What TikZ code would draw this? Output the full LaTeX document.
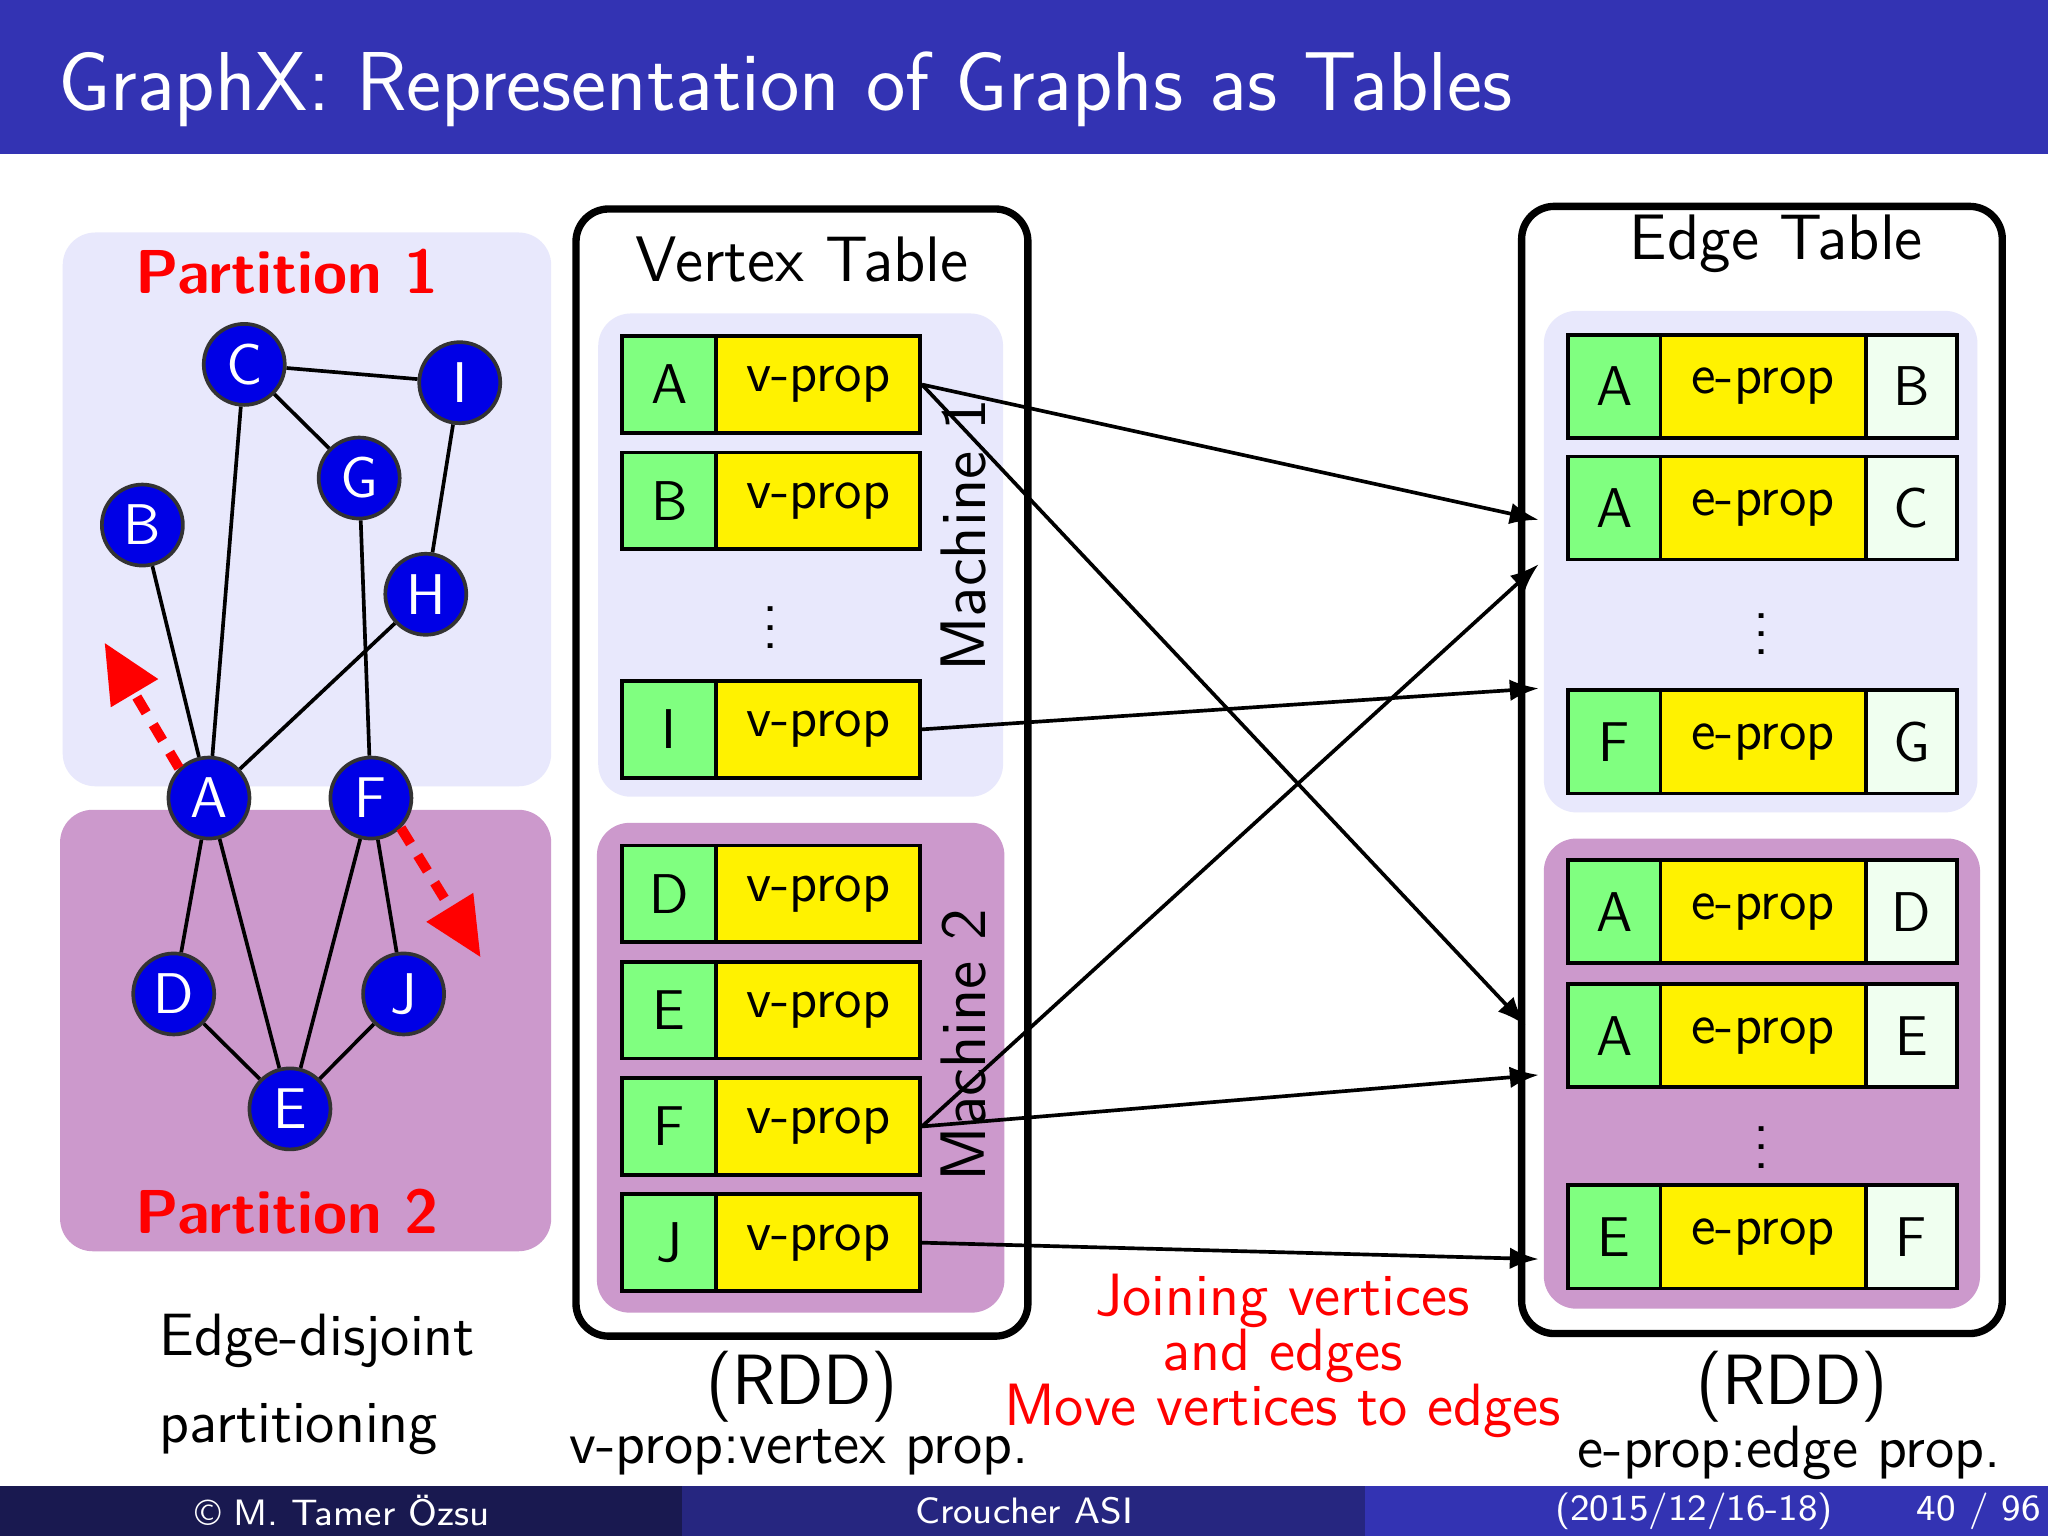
\documentclass[tikz,border=0pt]{standalone}
\usetikzlibrary{arrows.meta}
\begin{document}
\sffamily
\definecolor{bar}{RGB}{51,51,179}
\definecolor{fa}{RGB}{25,25,80}
\definecolor{fb}{RGB}{38,38,128}
\definecolor{lav}{RGB}{232,232,252}
\definecolor{pur}{RGB}{204,153,204}
\definecolor{vblue}{RGB}{0,0,230}
\definecolor{gcell}{RGB}{128,255,128}
\definecolor{wcell}{RGB}{240,255,240}
\begin{tikzpicture}[x=0.01cm,y=-0.01cm,
 fs/.style={font=\fontsize{#1}{#1}\selectfont},
 fsb/.style={font=\fontsize{#1}{#1}\selectfont\bfseries},
 vtx/.style={circle,draw=black!80,thick,fill=vblue,text=white,minimum size=0.62cm,inner sep=0pt,fs=12.5},
 cell/.style={draw=black,thick,anchor=north west,inner sep=0pt,fs=12.2},
 arr/.style={thick,-{Latex[length=0.22cm]}},
 rarr/.style={red,line width=2.2pt,dash pattern=on 4pt off 3pt,-{Triangle[length=0.45cm,width=0.4cm]}}]
\useasboundingbox (0,0) rectangle (1568,1176);
\fill[white] (0,0) rectangle (1568,1176);
% title bar
\fill[bar] (0,0) rectangle (1568,118);
\node[anchor=west,text=white,fs=18.2] (title) at (32,68) {GraphX: Representation of Graphs as Tables};
% footer
\fill[fa] (0,1138) rectangle (522,1176);
\fill[fb] (522,1138) rectangle (1045,1176);
\fill[bar] (1045,1138) rectangle (1568,1176);
\node[text=white,fs=8] (f1) at (262,1157) {\textcopyright\ M. Tamer Özsu};
\node[text=white,fs=8] (f2) at (784,1157) {Croucher ASI};
\node[text=white,fs=8] (f3) at (1297,1157) {(2015/12/16-18)};
\node[text=white,fs=8] (f4) at (1515,1157) {40 / 96};
% partitions
\fill[lav,rounded corners=0.25cm] (48,178) rectangle (422,602);
\fill[pur,rounded corners=0.25cm] (46,620) rectangle (422,958);
\node[red,fsb=13.5] (p1) at (220,208) {Partition 1};
\node[red,fsb=13.5] (p2) at (220,928) {Partition 2};
% vertices
\node[vtx] (C) at (187,279) {C};
\node[vtx] (I) at (352,293) {I};
\node[vtx] (G) at (275,366) {G};
\node[vtx] (B) at (109,402) {B};
\node[vtx] (H) at (326,455) {H};
\node[vtx] (A) at (160,611) {A};
\node[vtx] (F) at (284,611) {F};
\node[vtx] (D) at (133,761) {D};
\node[vtx] (J) at (309,761) {J};
\node[vtx] (E) at (222,849) {E};
\foreach \a/\b in {C/I,C/G,C/A,G/F,I/H,H/A,B/A,A/D,A/E,F/E,F/J,D/E,J/E}
  \draw[thick] (\a) -- (\b);
\coordinate (r1) at (80,492);
\coordinate (r2) at (368,733);
\draw[rarr] (A.north west) -- (r1);
\draw[rarr] (F.south east) -- (r2);
\node[fs=13,align=left,anchor=west] (ed) at (110,1060) {Edge-disjoint\\[6pt]partitioning};
% vertex table
\draw[line width=1.6pt,rounded corners=0.25cm] (441,160) rectangle (787,1023);
\node[fs=14] (vt) at (614,199) {Vertex Table};
\fill[lav,rounded corners=0.25cm] (458,240) rectangle (768,610);
\fill[pur,rounded corners=0.25cm] (457,630) rectangle (769,1005);
\node[rotate=90,fs=14] (m1) at (738,410) {Machine 1};
\node[rotate=90,fs=14] (m2) at (738,800) {Machine 2};
\foreach \n/\l/\y in {A/A/256,B/B/345,I/I/520,D/D/646,E/E/735,F/F/824,J/J/913}{
  \node[cell,fill=gcell,minimum width=0.72cm,minimum height=0.74cm] (vg\n) at (475,\y) {\l};
  \node[cell,fill=yellow,minimum width=1.56cm,minimum height=0.74cm] (vy\n) at (547,\y) {v-prop};
}
\node[fs=13] (vd) at (590,470) {$\vdots$};
% edge table
\draw[line width=1.6pt,rounded corners=0.25cm] (1165,158) rectangle (1533,1021);
\node[fs=14] (et) at (1360,187) {Edge Table};
\fill[lav,rounded corners=0.25cm] (1182,238) rectangle (1514,622);
\fill[pur,rounded corners=0.25cm] (1182,642) rectangle (1516,1002);
\foreach \n/\s/\t/\y in {AB/A/B/255,AC/A/C/348,FG/F/G/527,AD/A/D/657,AE/A/E/752,EF/E/F/906}{
  \node[cell,fill=gcell,minimum width=0.71cm,minimum height=0.79cm] (eg\n) at (1199,\y) {\s};
  \node[cell,fill=yellow,minimum width=1.57cm,minimum height=0.79cm] (ey\n) at (1270,\y) {e-prop};
  \node[cell,fill=wcell,minimum width=0.70cm,minimum height=0.79cm] (ew\n) at (1427,\y) {\t};
}
\node[fs=13] (ed1) at (1349,475) {$\vdots$};
\node[fs=13] (ed2) at (1349,868) {$\vdots$};
% arrows
\coordinate (t1) at (1178,398);
\coordinate (t2) at (1168,785);
\coordinate (t3) at (1178,527);
\coordinate (t4) at (1178,432);
\coordinate (t5) at (1178,823);
\coordinate (t6) at (1178,964);
\draw[arr] (vyA.east) -- (t1);
\draw[arr] (vyA.east) -- (t2);
\draw[arr] (vyI.east) -- (t3);
\draw[arr] (vyF.east) -- (t4);
\draw[arr] (vyF.east) -- (t5);
\draw[arr] (vyJ.east) -- (t6);
% bottom texts
\node[red,fs=13,align=center] (join) at (982,1038) {Joining vertices\\[-1pt]and edges\\[-1pt]Move vertices to edges};
\node[fs=15.5] (rdd1) at (614,1062) {(RDD)};
\node[fs=13] (vp) at (612,1112) {v-prop:vertex prop.};
\node[fs=15.5] (rdd2) at (1372,1062) {(RDD)};
\node[fs=13] (ep) at (1370,1112) {e-prop:edge prop.};
\end{tikzpicture}
\end{document}
